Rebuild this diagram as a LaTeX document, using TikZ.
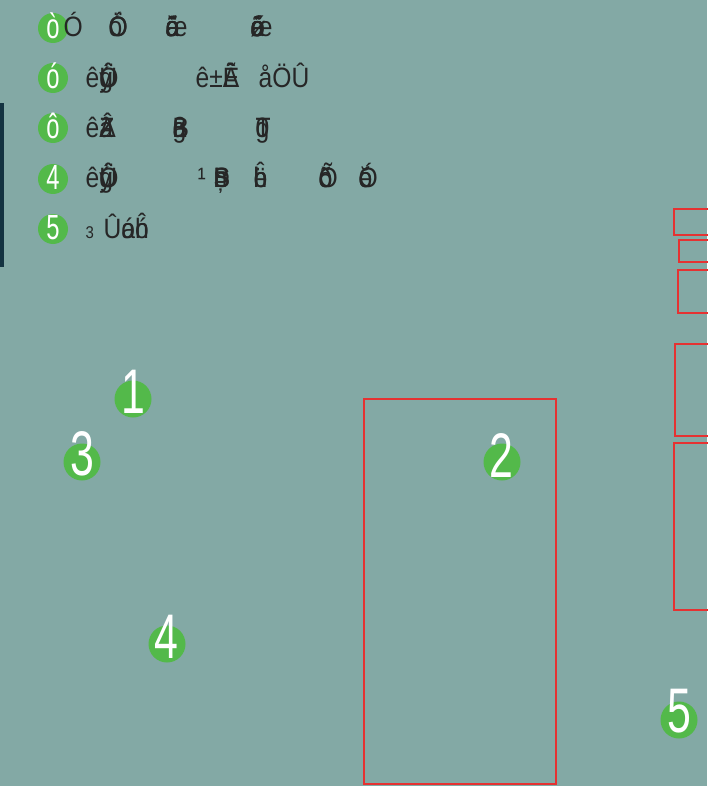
\documentclass[tikz,border=0pt]{standalone}
\usepackage{fontspec}
\setmainfont{Liberation Sans}
\usepackage{graphicx}
\usepackage{tikz}
\usetikzlibrary{positioning}
\definecolor{mapbg}{HTML}{83A9A5}
\definecolor{mapgreen}{HTML}{53B94A}
\definecolor{mapred}{HTML}{E53232}
\definecolor{mapbar}{HTML}{143341}
\definecolor{maptext}{HTML}{262626}
% glyphs printed on top of each other
\newcommand\stk[2]{\rlap{#1}#2}
% narrow glyph cluster at an offset inside a row
\newcommand\gl[2]{\rlap{\hspace*{#1}\scalebox{0.88}[1]{#2}}}
\newcommand\cnd[1]{\scalebox{0.68}[1]{#1}}

\begin{document}
\begin{tikzpicture}[x=1pt,y=-1pt,
  legenddot/.style={circle,fill=mapgreen,inner sep=0pt,minimum size=30pt},
  markerdot/.style={circle,fill=mapgreen,inner sep=0pt,minimum size=37pt},
  legendnum/.style={text=white,inner sep=0pt,anchor=base,font=\fontsize{35}{35}\selectfont},
  markernum/.style={text=white,inner sep=0pt,anchor=base,font=\fontsize{63}{63}\selectfont},
  legendrow/.style={text=maptext,inner sep=0pt,anchor=base west,font=\fontsize{28}{28}\selectfont},
  zone/.style={draw=mapred,line width=2pt}]
\useasboundingbox (0,0) rectangle (707,786);
\fill[mapbg] (0,0) rectangle (707,786);
\fill[mapbar] (0,103) rectangle (4,267);

% legend
\node[legenddot] (d1) at (53,28) {};
\node[legenddot] (d2) at (53,78) {};
\node[legenddot] (d3) at (53,128) {};
\node[legenddot] (d4) at (53,179) {};
\node[legenddot] (d5) at (53,229) {};
\node[legendnum] (k1) at (53,39) {\cnd{ò}};
\node[legendnum] (k2) at (53,89) {\cnd{ó}};
\node[legendnum] (k3) at (53,139) {\cnd{ô}};
\node[legendnum] (k4) at (53,190) {\cnd{4}};
\node[legendnum] (k5) at (53,240) {\cnd{5}};

\node[legendrow] (t1) at (63,37)
  {\gl{0pt}{Ó}\gl{45pt}{\stk{Ö}{\stk{ó}{Ó}}}\gl{102pt}{\stk{â}{\stk{ã}{\stk{ó}{\stk{æ}{ŏ}}}}}\gl{187pt}{\stk{ã}{\stk{é}{\stk{ø}{\stk{æ}{\stk{ő}{ó}}}}}}};
\node[legendrow] (t2) at (85,88)
  {\gl{0pt}{ê\stk{Û}{\stk{Ö}{\stk{g}{ý}}}}\gl{110pt}{ê±\stk{Ê}{Ã}}\gl{173pt}{åÖÛ}};
\node[legendrow] (t3) at (85,138)
  {\gl{0pt}{ê\stk{â}{\stk{Z}{Â}}}\gl{87pt}{\stk{g}{\stk{ß}{\stk{B}{a}}}}\gl{170pt}{\stk{T}{\stk{g}{0}}}};
\node[legendrow] (t4) at (85,188)
  {\gl{0pt}{ê\stk{Û}{\stk{Ö}{\stk{g}{ý}}}}\gl{112pt}{¹}\gl{128pt}{\stk{Þ}{\stk{B}{\stk{S}{ņ}}}}\gl{168pt}{\stk{ĥ}{\stk{b}{ë}}}\gl{233pt}{\stk{Õ}{\stk{ð}{õ}}}\gl{273pt}{\stk{ŏ}{\stk{Ó}{é}}}};
\node[legendrow] (t5) at (85,238)
  {\gl{0pt}{\fontsize{17}{17}\selectfont 3}\gl{18pt}{Û\stk{ó}{a}\stk{ĥ}{ó}}};

% zones
\draw[zone] (364,399) rectangle (556,784);
\draw[zone] (674,209) rectangle (712,235);
\draw[zone] (679,240) rectangle (712,262);
\draw[zone] (678,270) rectangle (712,313);
\draw[zone] (675,344) rectangle (712,436);
\draw[zone] (674,443) rectangle (712,610);

% numbered markers
\node[markerdot] (m1) at (133,399) {};
\node[markerdot] (m2) at (502,462) {};
\node[markerdot] (m3) at (82,462) {};
\node[markerdot] (m4) at (167,644) {};
\node[markerdot] (m5) at (679,720) {};
\node[markernum] (n1) at (133,413) {\cnd{1}};
\node[markernum] (n2) at (501,477) {\cnd{2}};
\node[markernum] (n3) at (82,475) {\cnd{3}};
\node[markernum] (n4) at (166,658) {\cnd{4}};
\node[markernum] (n5) at (679,732) {\cnd{5}};
\end{tikzpicture}
\end{document}
